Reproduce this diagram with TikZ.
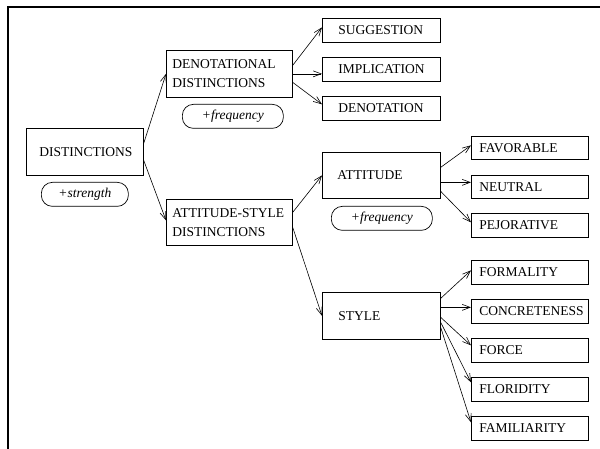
\documentclass[tikz,border=0pt]{standalone}
\usepackage{fontspec}
\setmainfont{Liberation Serif}
\usetikzlibrary{arrows.meta}
\hbadness=10000
\hfuzz=200pt
\begin{document}
\begin{tikzpicture}[x=1pt,y=-1pt,
  bx/.style={draw, line width=0.7pt, anchor=north west, inner ysep=0pt, inner xsep=0pt,
    align=left, font=\fontsize{13.5}{19}\selectfont},
  lbl/.style={draw, line width=0.7pt, anchor=north west, inner sep=0pt, rounded corners=11pt,
    align=center, font=\fontsize{13.5}{19}\selectfont\itshape},
  arr/.style={line width=0.6pt, -{Straight Barb[length=8pt,width=6pt]}}]
\useasboundingbox (0,0) rectangle (600,449);
\draw[line width=2pt] (8,449) -- (8,7.5) -- (600,7.5);
% level 0
\node[bx, minimum width=117, minimum height=47, text width=91] (dist) at (26,128) {DISTINCTIONS};
\node[lbl, minimum width=87, minimum height=24] (str) at (41,182) {+strength};
% level 1
\node[bx, minimum width=126, minimum height=47, text width=114] (den) at (166,50) {DENOTATIONAL\\DISTINCTIONS};
\node[lbl, minimum width=101, minimum height=24] (fq1) at (182,104) {+frequency};
\node[bx, minimum width=126, minimum height=46, text width=114] (as) at (166,199) {ATTITUDE-STYLE\\DISTINCTIONS};
% level 2
\node[bx, minimum width=118, minimum height=24, text width=86] (sug) at (322,18) {SUGGESTION};
\node[bx, minimum width=118, minimum height=24, text width=86] (imp) at (322,57) {IMPLICATION};
\node[bx, minimum width=118, minimum height=24, text width=86] (deno) at (322,96) {DENOTATION};
\node[bx, minimum width=118, minimum height=46, text width=88] (att) at (322,152) {ATTITUDE};
\node[lbl, minimum width=101, minimum height=24] (fq2) at (331,206) {+frequency};
\node[bx, minimum width=118, minimum height=47, text width=86] (sty) at (322,292) {STYLE};
% level 3
\node[bx, minimum width=117, minimum height=23, text width=101] (fav) at (471,136) {FAVORABLE};
\node[bx, minimum width=117, minimum height=23, text width=101] (neu) at (471,175) {NEUTRAL};
\node[bx, minimum width=117, minimum height=24, text width=101] (pej) at (471,213) {PEJORATIVE};
\node[bx, minimum width=117, minimum height=24, text width=101] (form) at (471,260) {FORMALITY};
\node[bx, minimum width=117, minimum height=24, text width=101] (conc) at (471,299) {CONCRETENESS};
\node[bx, minimum width=117, minimum height=24, text width=101] (force) at (471,338) {FORCE};
\node[bx, minimum width=117, minimum height=24, text width=101] (flor) at (471,377) {FLORIDITY};
\node[bx, minimum width=117, minimum height=24, text width=101] (fam) at (471,416) {FAMILIARITY};
% arrows
\draw[arr] ([yshift=8.5pt]dist.east) -- (den.west);
\draw[arr] ([yshift=-8.5pt]dist.east) -- ([yshift=2pt]as.west);
\draw[arr] ([yshift=8.5pt]den.east) -- ([yshift=3pt]sug.west);
\draw[arr] (den.east) -- ([yshift=-4.5pt]imp.west);
\draw[arr] ([yshift=-8.5pt]den.east) -- ([yshift=4pt]deno.west);
\draw[arr] ([yshift=10pt]as.east) -- (att.west);
\draw[arr] ([yshift=-5pt]as.east) -- (sty.west);
\draw[arr] ([yshift=8pt]att.east) -- ([yshift=2.5pt]fav.west);
\draw[arr] ([yshift=-7pt]att.east) -- ([yshift=4.5pt]neu.west);
\draw[arr] ([yshift=-16pt]att.east) -- ([yshift=3pt]pej.west);
\draw[arr] ([yshift=17.5pt]sty.east) -- ([yshift=2pt]form.west);
\draw[arr] ([yshift=8.5pt]sty.east) -- ([yshift=4pt]conc.west);
\draw[arr] ([yshift=-1.5pt]sty.east) -- ([yshift=5pt]force.west);
\draw[arr] ([yshift=-6.5pt]sty.east) -- ([yshift=7pt]flor.west);
\draw[arr] ([yshift=-11.5pt]sty.east) -- ([yshift=6pt]fam.west);
\end{tikzpicture}
\end{document}
